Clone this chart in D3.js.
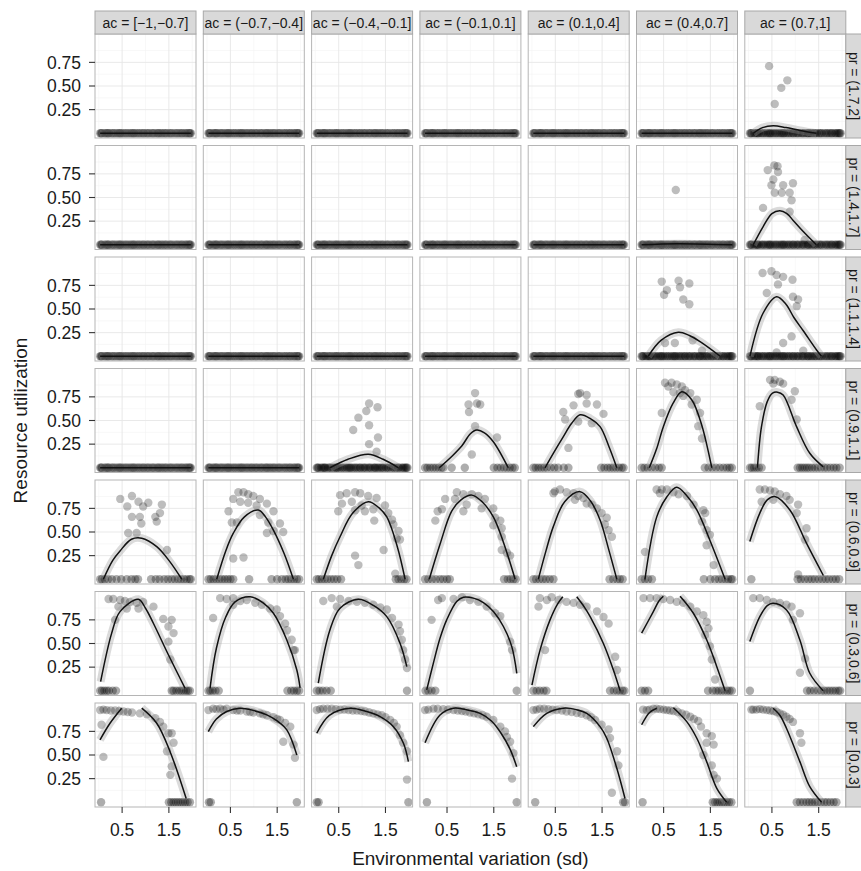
<!DOCTYPE html>
<html>
<head>
<meta charset="utf-8">
<script src="https://cdn.jsdelivr.net/npm/d3@7"></script>
<style>
  body { margin: 0; background: #fff; }
  svg { display: block; }
  text { font-family: "Liberation Sans", Arial, Helvetica, sans-serif; }
</style>
</head>
<body>
<div id="chart"></div>
<script>
// facet labels
const acLabels = ["ac = [\u22121,\u22120.7]", "ac = (\u22120.7,\u22120.4]", "ac = (\u22120.4,\u22120.1]",
  "ac = (\u22120.1,0.1]", "ac = (0.1,0.4]", "ac = (0.4,0.7]", "ac = (0.7,1]"];
const prLabels = ["pr = (1.7,2]", "pr = (1.4,1.7]", "pr = (1.1,1.4]", "pr = (0.9,1.1]",
  "pr = (0.6,0.9]", "pr = (0.3,0.6]", "pr = [0,0.3]"];

const xBreaks = [0.5, 1.5];
const xMinor = [0, 1, 2];
const yBreaks = [0.25, 0.5, 0.75];
const yMinor = [0.125, 0.375, 0.625, 0.875];

// runs where every simulation ended at zero utilization
const band = [0.03, 0.07, 0.12, 0.18, 0.22, 0.27, 0.33, 0.37, 0.44, 0.49, 0.53, 0.6, 0.64, 0.71, 0.76, 0.8,
  0.87, 0.91, 0.97, 1.02, 1.08, 1.13, 1.19, 1.24, 1.29, 1.36, 1.4, 1.46, 1.51, 1.57, 1.62, 1.69, 1.73,
  1.79, 1.84, 1.9, 1.95, 1.97,
  0.05, 0.15, 0.2, 0.3, 0.41, 0.46, 0.57, 0.68, 0.74, 0.84, 0.95, 1.05, 1.16, 1.27, 1.33, 1.43, 1.54, 1.66, 1.77, 1.87, 1.93];
const flat = [[[0.03, 0], [1.97, 0]]];

// x (sd) of points sitting at zero, rows = pr bins (top to bottom), cols = ac bins
const zeroX = [
  [band, band, band, band, band, band, band],
  [band, band, band, band, band, band, band],
  [band, band, band, band, band, band, band],
  [band, band, band,
    [0.03, 0.08, 0.14, 0.2, 0.26, 0.32, 0.38, 0.42, 0.6, 0.88, 1.5, 1.58, 1.65, 1.72, 1.78, 1.84, 1.9, 1.95],
    [0.03, 0.08, 0.14, 0.2, 0.26, 0.32, 0.4, 0.48, 0.56, 0.68, 0.78, 1.48, 1.55, 1.62, 1.68, 1.74, 1.8, 1.86, 1.92, 1.96],
    [0.03, 0.09, 0.16, 0.24, 0.32, 0.4, 0.46, 1.38, 1.46, 1.54, 1.62, 1.7, 1.78, 1.85, 1.91, 1.96],
    [0.03, 0.07, 0.12, 0.17, 0.22, 0.28, 1.05, 1.1, 1.15, 1.2, 1.25, 1.3, 1.36, 1.42, 1.48, 1.55, 1.62, 1.68, 1.75, 1.82, 1.88, 1.95]],
  [[0.03, 0.07, 0.13, 0.2, 0.28, 0.38, 0.48, 0.6, 0.7, 0.78, 0.84, 1.12, 1.22, 1.3, 1.4, 1.48, 1.56, 1.63, 1.7, 1.76, 1.82, 1.88, 1.94, 1.97],
    [0.03, 0.08, 0.14, 0.2, 0.26, 0.32, 0.38, 0.44, 0.5, 0.56, 0.9, 1.38, 1.5, 1.6, 1.68, 1.74, 1.8, 1.86, 1.92, 1.97],
    [0.03, 0.08, 0.14, 0.2, 0.26, 0.33, 0.4, 0.47, 0.55, 1.72, 1.78, 1.84, 1.9, 1.95],
    [0.03, 0.1, 0.18, 0.26, 0.35, 0.42, 0.5, 0.56, 1.72, 1.8, 1.86, 1.92, 1.97],
    [0.03, 0.09, 0.16, 0.23, 0.3, 0.38, 0.46, 1.66, 1.74, 1.82, 1.88, 1.94],
    [0.03, 0.1, 0.17, 0.25, 1.36, 1.5, 1.6, 1.68, 1.75, 1.82, 1.88, 1.94, 1.97],
    [0.06, 1.05, 1.12, 1.2, 1.28, 1.35, 1.42, 1.5, 1.58, 1.65, 1.72, 1.8, 1.87, 1.94]],
  [[0.03, 0.07, 0.12, 0.17, 0.22, 0.3, 0.37, 1.56, 1.6, 1.66, 1.72, 1.77, 1.82, 1.87, 1.91, 1.95],
    [0.03, 0.07, 0.12, 0.18, 0.25, 1.72, 1.8, 1.86, 1.92, 1.97],
    [0.03, 0.09, 0.16, 0.24, 0.33, 1.96],
    [0.04, 0.1, 0.17, 0.25, 1.99],
    [0.03, 0.1, 0.17, 0.25, 0.31, 1.67, 1.75, 1.82, 1.88, 1.94, 1.98],
    [0.03, 0.1, 0.17, 1.45, 1.55, 1.62, 1.68, 1.74, 1.8, 1.86, 1.91, 1.96],
    [0.03, 1.25, 1.32, 1.4, 1.48, 1.56, 1.62, 1.68, 1.74, 1.8, 1.86, 1.92, 1.96]],
  [[0.05, 1.5, 1.55, 1.6, 1.65, 1.7, 1.75, 1.8, 1.85, 1.9, 1.95],
    [0.04, 0.08, 1.92],
    [0.03, 0.07, 1.99],
    [0.07, 1.99],
    [0.07, 1.95, 1.99],
    [0.05, 1.55, 1.6, 1.65, 1.7, 1.75, 1.8, 1.85, 1.9, 1.95],
    [1.03, 1.1, 1.17, 1.24, 1.3, 1.36, 1.42, 1.48, 1.55, 1.62, 1.68, 1.75, 1.82, 1.88]]
];

// [sd, utilization] of points above zero
const pointXY = [
  [[], [], [], [], [], [],
    [[0.44, 0.71], [0.83, 0.56], [0.70, 0.48], [0.56, 0.31]]],
  [[], [], [], [], [],
    [[0.76, 0.58]],
    [[0.55, 0.84], [0.62, 0.83], [0.41, 0.79], [0.63, 0.77], [0.53, 0.69], [0.49, 0.63], [0.74, 0.63], [0.95, 0.65],
      [0.56, 0.55], [0.71, 0.55], [0.88, 0.55], [0.92, 0.47], [0.31, 0.39], [0.88, 0.35], [1.2, 0.05]]],
  [[], [], [], [], [],
    [[0.46, 0.79], [0.82, 0.80], [1.05, 0.77], [0.57, 0.70], [0.85, 0.73], [0.51, 0.65], [0.92, 0.60], [1.05, 0.55],
      [0.53, 0.14], [0.74, 0.14], [1.12, 0.17], [1.32, 0.06]],
    [[0.30, 0.88], [0.49, 0.90], [0.60, 0.86], [0.74, 0.84], [0.94, 0.81], [0.63, 0.76], [0.39, 0.67], [0.95, 0.63],
      [1.06, 0.60], [1.03, 0.53], [0.92, 0.21], [0.60, 0.04], [1.17, 0.06], [0.74, 0.14]]],
  [[], [],
    [[1.15, 0.68], [1.33, 0.64], [1.09, 0.60], [0.92, 0.53], [1.15, 0.45], [0.81, 0.40], [1.15, 0.25], [1.34, 0.32], [1.31, 0.17]],
    [[1.10, 0.79], [0.96, 0.67], [1.14, 0.68], [1.21, 0.67], [0.97, 0.59], [1.10, 0.44], [1.57, 0.32], [1.03, 0.14]],
    [[1.03, 0.79], [0.99, 0.78], [1.17, 0.77], [0.89, 0.66], [1.17, 0.68], [1.39, 0.67], [0.67, 0.59], [1.53, 0.57],
      [0.71, 0.51], [0.99, 0.49], [1.28, 0.47], [0.78, 0.21]],
    [[0.53, 0.90], [0.67, 0.90], [0.60, 0.86], [0.78, 0.88], [0.89, 0.86], [0.96, 0.82], [0.85, 0.79], [0.71, 0.80],
      [1.07, 0.79], [0.92, 0.76], [1.21, 0.72], [1.10, 0.67], [0.46, 0.58], [1.28, 0.58], [1.24, 0.44], [1.32, 0.31]],
    [[0.46, 0.93], [0.56, 0.93], [0.67, 0.91], [0.74, 0.89], [0.53, 0.89], [0.99, 0.81], [0.24, 0.65], [0.92, 0.72], [1.03, 0.51]]],
  [[[0.46, 0.85], [0.71, 0.88], [0.61, 0.77], [0.85, 0.82], [0.95, 0.77], [1.06, 0.81], [1.35, 0.79], [1.31, 0.70],
      [0.71, 0.66], [0.88, 0.66], [0.91, 0.59], [1.21, 0.66], [1.24, 0.61], [0.63, 0.49], [0.81, 0.49], [1.46, 0.31]],
    [[0.67, 0.92], [0.78, 0.92], [0.88, 0.90], [0.99, 0.88], [1.13, 0.85], [0.56, 0.85], [0.71, 0.82], [0.88, 0.81],
      [1.06, 0.78], [1.28, 0.80], [0.46, 0.72], [1.42, 0.72], [1.13, 0.68], [0.53, 0.60], [0.64, 0.60], [1.31, 0.60],
      [1.56, 0.59], [1.28, 0.49], [1.42, 0.51], [1.63, 0.50], [0.56, 0.22], [0.78, 0.23]],
    [[0.53, 0.89], [0.67, 0.91], [0.85, 0.92], [0.96, 0.91], [1.13, 0.88], [1.31, 0.86], [0.57, 0.80], [0.78, 0.82],
      [0.99, 0.78], [1.24, 0.74], [1.49, 0.78], [0.49, 0.72], [0.85, 0.73], [1.06, 0.72], [1.56, 0.70], [1.64, 0.63],
      [1.67, 0.58], [1.26, 0.62], [1.78, 0.51], [1.74, 0.43], [1.81, 0.42], [1.46, 0.31], [0.85, 0.25], [0.92, 0.15], [1.71, 0.06]],
    [[0.25, 0.62], [0.30, 0.72], [0.71, 0.92], [0.85, 0.90], [1.03, 0.90], [1.17, 0.88], [0.46, 0.85], [0.67, 0.85],
      [1.31, 0.85], [0.92, 0.79], [1.24, 0.75], [1.49, 0.75], [0.39, 0.74], [0.85, 0.72], [1.53, 0.65], [1.64, 0.62],
      [1.49, 0.57], [1.67, 0.54], [1.67, 0.45], [1.67, 0.31], [1.78, 0.28], [1.85, 0.25]],
    [[0.49, 0.93], [0.60, 0.95], [0.74, 0.92], [0.89, 0.91], [0.99, 0.88], [1.10, 0.86], [1.17, 0.80], [1.28, 0.79],
      [1.39, 0.75], [1.49, 0.70], [1.60, 0.65], [1.56, 0.58], [1.64, 0.52], [1.71, 0.45], [0.46, 0.91], [0.92, 0.84]],
    [[0.35, 0.95], [0.46, 0.95], [0.57, 0.95], [0.71, 0.92], [0.82, 0.90], [1.00, 0.88], [0.42, 0.91], [1.14, 0.79],
      [1.35, 0.73], [1.39, 0.70], [1.32, 0.61], [1.42, 0.52], [1.49, 0.47], [1.42, 0.36], [0.10, 0.29], [1.57, 0.15]],
    [[0.24, 0.95], [0.35, 0.95], [0.46, 0.94], [0.56, 0.93], [0.67, 0.90], [0.81, 0.88], [0.88, 0.84], [0.28, 0.82],
      [0.53, 0.84], [1.06, 0.79], [1.03, 0.70], [1.24, 0.54], [1.21, 0.42], [1.06, 0.05]]],
  [[[0.21, 0.97], [0.31, 0.97], [0.46, 0.96], [0.56, 0.95], [0.67, 0.94], [0.81, 0.93], [0.95, 0.94], [0.42, 0.89],
      [0.60, 0.87], [0.85, 0.87], [1.17, 0.89], [0.35, 0.75], [1.38, 0.76], [1.56, 0.75], [1.49, 0.68], [1.60, 0.61],
      [1.49, 0.52], [1.53, 0.33]],
    [[0.28, 0.98], [0.42, 0.97], [0.56, 0.98], [0.71, 0.95], [0.85, 0.96], [1.03, 0.93], [1.17, 0.91], [1.35, 0.87],
      [1.49, 0.86], [1.56, 0.79], [1.67, 0.71], [1.71, 0.64], [1.81, 0.54], [1.85, 0.43], [1.88, 0.43], [0.13, 0.77], [0.56, 0.91]],
    [[0.17, 0.95], [0.35, 0.98], [0.53, 0.97], [0.71, 0.95], [0.89, 0.94], [1.06, 0.93], [1.24, 0.91], [1.39, 0.88],
      [1.53, 0.86], [0.46, 0.89], [1.64, 0.77], [1.78, 0.70], [1.81, 0.63], [1.85, 0.54], [1.88, 0.43], [1.92, 0.33], [1.96, 0.24]],
    [[0.17, 0.75], [0.31, 0.96], [0.39, 0.98], [0.64, 0.97], [0.82, 0.99], [0.99, 0.96], [1.17, 0.94], [1.35, 0.89],
      [1.53, 0.82], [1.64, 0.79], [1.85, 0.52], [1.89, 0.43]],
    [[0.17, 0.98], [0.32, 0.96], [0.42, 0.99], [0.57, 0.96], [0.74, 0.94], [0.89, 0.93], [1.03, 0.91], [1.17, 0.89],
      [1.39, 0.84], [1.53, 0.78], [1.64, 0.71], [0.14, 0.89], [0.28, 0.43], [1.78, 0.36], [1.82, 0.22]],
    [[0.07, 0.98], [0.21, 0.98], [0.35, 0.98], [0.49, 0.97], [0.64, 0.96], [0.78, 0.94], [0.92, 0.93], [1.07, 0.89],
      [1.21, 0.84], [1.35, 0.80], [1.42, 0.73], [1.46, 0.66], [1.39, 0.59], [1.49, 0.47], [1.53, 0.33], [1.60, 0.12]],
    [[0.10, 0.98], [0.24, 0.98], [0.39, 0.96], [0.53, 0.94], [0.67, 0.93], [0.81, 0.91], [0.92, 0.89], [1.10, 0.82],
      [0.95, 0.75], [1.21, 0.34], [1.10, 0.19]]],
  [[[0.03, 0.975], [0.17, 0.975], [0.35, 0.97], [0.53, 0.96], [0.71, 0.95], [0.88, 0.94], [1.03, 0.93], [1.21, 0.89],
      [1.31, 0.85], [1.38, 0.80], [1.49, 0.73], [1.56, 0.73], [1.60, 0.63], [1.46, 0.54], [1.56, 0.38], [1.53, 0.29],
      [0.06, 0.82], [0.10, 0.48], [0.10, 0.98], [0.26, 0.97], [0.44, 0.965], [0.62, 0.955]],
    [[0.03, 0.975], [0.13, 0.99], [0.28, 0.99], [0.42, 0.99], [0.56, 0.975], [0.71, 0.97], [0.85, 0.96], [0.99, 0.95],
      [1.13, 0.94], [1.28, 0.92], [1.42, 0.90], [1.56, 0.87], [1.67, 0.84], [1.78, 0.80], [1.63, 0.64], [1.85, 0.61],
      [1.88, 0.47], [0.20, 0.985], [0.35, 0.98], [0.64, 0.97], [0.92, 0.955], [1.20, 0.93], [1.50, 0.88]],
    [[0.03, 0.975], [0.17, 0.99], [0.35, 0.99], [0.53, 0.98], [0.71, 0.975], [0.89, 0.97], [1.06, 0.96], [1.24, 0.94],
      [1.42, 0.92], [1.60, 0.87], [1.74, 0.80], [1.81, 0.71], [1.88, 0.63], [1.96, 0.54], [1.96, 0.24], [0.10, 0.985],
      [0.26, 0.99], [0.44, 0.985], [0.62, 0.98], [0.80, 0.97], [0.98, 0.965], [1.15, 0.95], [1.33, 0.93], [1.50, 0.90], [1.68, 0.84]],
    [[0.03, 0.975], [0.21, 0.99], [0.42, 0.985], [0.64, 0.975], [0.82, 0.965], [0.99, 0.95], [1.17, 0.93], [1.35, 0.905],
      [1.49, 0.87], [1.64, 0.80], [1.74, 0.75], [1.78, 0.69], [1.85, 0.64], [1.92, 0.52], [1.89, 0.25], [0.10, 0.98],
      [0.30, 0.99], [0.52, 0.98], [0.73, 0.97], [0.90, 0.96], [1.08, 0.94], [1.26, 0.92]],
    [[0.03, 0.975], [0.17, 0.99], [0.35, 0.985], [0.53, 0.975], [0.74, 0.96], [0.96, 0.945], [1.17, 0.92], [1.35, 0.87],
      [1.49, 0.82], [1.64, 0.77], [1.67, 0.68], [1.82, 0.54], [1.85, 0.39], [1.71, 0.10], [0.10, 0.98], [0.26, 0.99],
      [0.44, 0.98], [0.64, 0.97], [0.85, 0.955], [1.06, 0.935], [1.26, 0.90]],
    [[0.14, 0.975], [0.28, 0.99], [0.42, 0.985], [0.57, 0.975], [0.71, 0.965], [0.89, 0.94], [1.07, 0.905], [1.24, 0.86],
      [1.42, 0.73], [1.53, 0.70], [1.42, 0.63], [1.57, 0.61], [1.35, 0.50], [1.53, 0.39], [1.57, 0.29], [1.64, 0.25],
      [0.06, 0.98], [0.20, 0.98], [0.35, 0.99], [0.50, 0.98], [0.64, 0.97], [0.80, 0.955], [0.98, 0.925], [1.15, 0.88], [1.30, 0.80]],
    [[0.10, 0.98], [0.24, 0.985], [0.39, 0.975], [0.53, 0.965], [0.67, 0.94], [0.81, 0.905], [0.95, 0.85], [1.10, 0.73],
      [1.13, 0.63], [0.06, 0.98], [0.17, 0.98], [0.31, 0.98], [0.46, 0.97], [0.60, 0.955], [0.74, 0.925], [0.88, 0.88]]]
];

// loess fits; split where the fit leaves the 0..1 range
const fitXY = [
  [flat, flat, flat, flat, flat, flat,
    [[[0.1, 0.0], [0.3, 0.06], [0.53, 0.08], [0.8, 0.06], [1.1, 0.03], [1.45, 0.0]]]],
  [flat, flat, flat, flat, flat,
    [[[0.03, 0.0], [0.8, 0.012], [1.97, 0.0]]],
    [[[0.1, 0.0], [0.31, 0.19], [0.5, 0.33], [0.67, 0.36], [0.82, 0.33], [0.95, 0.26], [1.17, 0.14], [1.45, 0.0]]]],
  [flat, flat, flat, flat, flat,
    [[[0.17, 0.0], [0.45, 0.17], [0.815, 0.254], [1.05, 0.22], [1.28, 0.155], [1.71, 0.0]]],
    [[[0.03, 0.0], [0.31, 0.455], [0.6, 0.63], [0.8, 0.55], [0.97, 0.41], [1.17, 0.27], [1.455, 0.067], [1.56, 0.0]]]],
  [flat, flat,
    [[[0.314, 0.0], [0.7, 0.09], [1.134, 0.143], [1.45, 0.09], [1.777, 0.0]]],
    [[[0.335, 0.0], [0.6, 0.12], [0.815, 0.23], [1.0, 0.36], [1.136, 0.40], [1.3, 0.37], [1.49, 0.276], [1.81, 0.0]]],
    [[[0.28, 0.0], [0.457, 0.153], [0.672, 0.33], [0.85, 0.47], [1.03, 0.56], [1.25, 0.52], [1.457, 0.435], [1.65, 0.22], [1.815, 0.0]]],
    [[[0.194, 0.0], [0.35, 0.2], [0.494, 0.435], [0.7, 0.68], [0.888, 0.805], [1.1, 0.72], [1.316, 0.45], [1.53, 0.0]]],
    [[[0.19, 0.0], [0.277, 0.435], [0.4, 0.7], [0.513, 0.79], [0.62, 0.80], [0.74, 0.77], [1.027, 0.435], [1.31, 0.153], [1.597, 0.01]]]],
  [[[[0.098, 0.0], [0.3, 0.2], [0.455, 0.3], [0.7, 0.423], [0.92, 0.434], [1.24, 0.345], [1.5, 0.2], [1.777, 0.0]]],
    [[[0.207, 0.0], [0.4, 0.3], [0.562, 0.487], [0.8, 0.66], [1.098, 0.733], [1.25, 0.66], [1.419, 0.52], [1.65, 0.27], [1.847, 0.0]]],
    [[[0.171, 0.0], [0.35, 0.25], [0.528, 0.45], [0.8, 0.7], [1.134, 0.82], [1.35, 0.76], [1.528, 0.66], [1.75, 0.35], [1.92, 0.0]]],
    [[[0.12, 0.0], [0.35, 0.37], [0.6, 0.72], [0.8, 0.84], [1.03, 0.89], [1.25, 0.82], [1.49, 0.66], [1.7, 0.4], [1.957, 0.0]]],
    [[[0.136, 0.0], [0.3, 0.3], [0.457, 0.557], [0.7, 0.82], [1.03, 0.927], [1.25, 0.83], [1.457, 0.627], [1.65, 0.3], [1.815, 0.0]]],
    [[[0.10, 0.0], [0.353, 0.66], [0.567, 0.87], [0.78, 0.973], [1.0, 0.88], [1.21, 0.733], [1.5, 0.4], [1.815, 0.0]]],
    [[[0.027, 0.40], [0.241, 0.70], [0.4, 0.84], [0.562, 0.875], [0.884, 0.733], [1.241, 0.38], [1.6, 0.04]]]],
  [[[[0.04, 0.096], [0.277, 0.61], [0.455, 0.837], [0.847, 0.968], [1.0, 0.873], [1.168, 0.714], [1.5, 0.37], [1.847, 0.026]]],
    [[[0.064, 0.026], [0.2, 0.45], [0.4, 0.78], [0.6, 0.94], [0.92, 0.995], [1.2, 0.93], [1.42, 0.82], [1.706, 0.537], [1.92, 0.22], [1.99, 0.03]]],
    [[[0.063, 0.08], [0.31, 0.64], [0.528, 0.873], [0.92, 0.968], [1.25, 0.9], [1.528, 0.784], [1.813, 0.5], [1.956, 0.255]]],
    [[[0.066, 0.01], [0.207, 0.29], [0.35, 0.555], [0.493, 0.75], [0.707, 0.944], [0.85, 0.99], [1.064, 0.98], [1.278, 0.933],
      [1.492, 0.838], [1.706, 0.68], [1.885, 0.467], [1.992, 0.185]]],
    [[[0.0, 0.06], [0.173, 0.43], [0.387, 0.75], [0.55, 0.92], [0.66, 0.995]],
      [[0.958, 0.995], [1.1, 0.9], [1.245, 0.784], [1.528, 0.5], [1.742, 0.22], [1.886, 0.0]]],
    [[[0.03, 0.61], [0.28, 0.837], [0.4, 0.95], [0.494, 1.0]],
      [[0.852, 1.0], [1.136, 0.82], [1.423, 0.537], [1.637, 0.255], [1.815, 0.0]]],
    [[[0.027, 0.52], [0.241, 0.784], [0.4, 0.9], [0.526, 0.925], [0.813, 0.855], [1.098, 0.537], [1.31, 0.185], [1.597, 0.0]]]],
  [[[[0.027, 0.66], [0.241, 0.836], [0.49, 0.995]],
      [[0.92, 0.995], [1.24, 0.836], [1.526, 0.535], [1.87, 0.04]]],
    [[[0.027, 0.747], [0.2, 0.88], [0.42, 0.96], [0.706, 0.995], [1.0, 0.97], [1.278, 0.924], [1.5, 0.86], [1.706, 0.765], [1.92, 0.50]]],
    [[[0.03, 0.73], [0.3, 0.92], [0.742, 0.995], [1.1, 0.96], [1.385, 0.906], [1.67, 0.8], [1.884, 0.624], [1.99, 0.43]]],
    [[[0.03, 0.63], [0.35, 0.924], [0.635, 0.995], [0.9, 0.98], [1.207, 0.94], [1.45, 0.86], [1.635, 0.746], [1.85, 0.56], [1.99, 0.376]]],
    [[[0.03, 0.80], [0.316, 0.94], [0.672, 0.995], [0.95, 0.98], [1.173, 0.94], [1.457, 0.8], [1.6, 0.677], [1.815, 0.36], [1.99, 0.04]]],
    [[[0.03, 0.82], [0.2, 0.95], [0.353, 0.995]],
      [[0.708, 1.0], [0.995, 0.853], [1.21, 0.677], [1.42, 0.43], [1.637, 0.148], [1.85, 0.0]]],
    [[[0.526, 0.995], [0.67, 0.92], [0.813, 0.78], [1.098, 0.43], [1.31, 0.165], [1.562, 0.0]]]]
];

// layout
const W = 861, H = 871;
const left0 = 95, top0 = 34, pw = 101, ph = 104, stepX = 108.3, stepY = 111.5;
const ink = "#1a1a1a";

const svg = d3.select("#chart").append("svg").attr("width", W).attr("height", H);

const x = d3.scaleLinear().domain([-0.08, 2.08]).range([0, pw]);
const y = d3.scaleLinear().domain([-0.05, 1.05]).range([ph, 0]);

const line = d3.line()
  .x(d => x(d[0]))
  .y(d => y(d[1]))
  .curve(d3.curveCatmullRom.alpha(0.5));

svg.append("defs").append("clipPath").attr("id", "panel-clip")
  .append("rect").attr("width", pw).attr("height", ph);

for (let r = 0; r < 7; r++) {
  for (let c = 0; c < 7; c++) {
    const px = left0 + c * stepX, py = top0 + r * stepY;
    const g = svg.append("g").attr("transform", `translate(${px},${py})`);

    g.append("rect").attr("width", pw).attr("height", ph).attr("fill", "#fff");

    // grid
    g.selectAll("line.xmin").data(xMinor).join("line")
      .attr("x1", d => x(d)).attr("x2", d => x(d)).attr("y1", 0).attr("y2", ph)
      .attr("stroke", "#f3f3f3").attr("stroke-width", 0.6);
    g.selectAll("line.ymin").data(yMinor).join("line")
      .attr("y1", d => y(d)).attr("y2", d => y(d)).attr("x1", 0).attr("x2", pw)
      .attr("stroke", "#f3f3f3").attr("stroke-width", 0.6);
    g.selectAll("line.xmaj").data(xBreaks).join("line")
      .attr("x1", d => x(d)).attr("x2", d => x(d)).attr("y1", 0).attr("y2", ph)
      .attr("stroke", "#e6e6e6").attr("stroke-width", 0.9);
    g.selectAll("line.ymaj").data(yBreaks).join("line")
      .attr("y1", d => y(d)).attr("y2", d => y(d)).attr("x1", 0).attr("x2", pw)
      .attr("stroke", "#e6e6e6").attr("stroke-width", 0.9);

    const body = g.append("g").attr("clip-path", "url(#panel-clip)");

    body.selectAll("circle.zero").data(zeroX[r][c]).join("circle")
      .attr("cx", d => x(d)).attr("cy", y(0)).attr("r", 4.2)
      .attr("fill", "#000").attr("fill-opacity", 0.32);
    body.selectAll("circle.pt").data(pointXY[r][c]).join("circle")
      .attr("cx", d => x(d[0])).attr("cy", d => y(d[1])).attr("r", 4.2)
      .attr("fill", "#000").attr("fill-opacity", 0.26);

    fitXY[r][c].forEach(seg => {
      body.append("path").attr("d", line(seg))
        .attr("fill", "none").attr("stroke", "#999").attr("stroke-opacity", 0.35)
        .attr("stroke-width", 8).attr("stroke-linejoin", "round");
      body.append("path").attr("d", line(seg))
        .attr("fill", "none").attr("stroke", "#111").attr("stroke-width", 1.5);
    });

    g.append("rect").attr("width", pw).attr("height", ph)
      .attr("fill", "none").attr("stroke", "#b5b5b5").attr("stroke-width", 1);

    // y axis on first column
    if (c === 0) {
      const ya = g.append("g");
      ya.selectAll("line").data(yBreaks).join("line")
        .attr("x1", -6).attr("x2", 0).attr("y1", d => y(d)).attr("y2", d => y(d))
        .attr("stroke", "#333").attr("stroke-width", 1.1);
      ya.selectAll("text").data(yBreaks).join("text")
        .attr("x", -14).attr("y", d => y(d)).attr("dy", "0.36em")
        .attr("text-anchor", "end").attr("font-size", 17.5).attr("fill", ink)
        .text(d => d3.format(".2f")(d));
    }
    // x axis on last row
    if (r === 6) {
      const xa = g.append("g");
      xa.selectAll("line").data(xBreaks).join("line")
        .attr("x1", d => x(d)).attr("x2", d => x(d)).attr("y1", ph).attr("y2", ph + 6)
        .attr("stroke", "#333").attr("stroke-width", 1.1);
      xa.selectAll("text").data(xBreaks).join("text")
        .attr("x", d => x(d)).attr("y", ph + 29)
        .attr("text-anchor", "middle").attr("font-size", 17.5).attr("fill", ink)
        .text(d => d3.format(".1f")(d));
    }
    // top strips
    if (r === 0) {
      g.append("rect").attr("x", 0).attr("y", -23).attr("width", pw).attr("height", 23)
        .attr("fill", "#d9d9d9").attr("stroke", "#a8a8a8").attr("stroke-width", 1);
      g.append("text").attr("x", pw / 2).attr("y", -11.5).attr("dy", "0.36em")
        .attr("text-anchor", "middle").attr("font-size", 14).attr("fill", ink)
        .text(acLabels[c]);
    }
    // right strips
    if (c === 6) {
      g.append("rect").attr("x", pw).attr("y", 0).attr("width", 24).attr("height", ph)
        .attr("fill", "#d9d9d9").attr("stroke", "#a8a8a8").attr("stroke-width", 1);
      g.append("text")
        .attr("transform", `translate(${pw + 8},${ph / 2}) rotate(90)`)
        .attr("dy", "0.36em")
        .attr("text-anchor", "middle").attr("font-size", 14).attr("fill", ink)
        .text(prLabels[r]);
    }
  }
}

// axis titles
const gridMidX = left0 + (6 * stepX + pw) / 2;
const gridMidY = top0 + (6 * stepY + ph) / 2;
svg.append("text").attr("x", gridMidX).attr("y", 865)
  .attr("text-anchor", "middle").attr("font-size", 19).attr("fill", ink)
  .text("Environmental variation (sd)");
svg.append("text")
  .attr("transform", `translate(27,${gridMidY}) rotate(-90)`)
  .attr("text-anchor", "middle").attr("font-size", 19).attr("fill", ink)
  .text("Resource utilization");
</script>
</body>
</html>
